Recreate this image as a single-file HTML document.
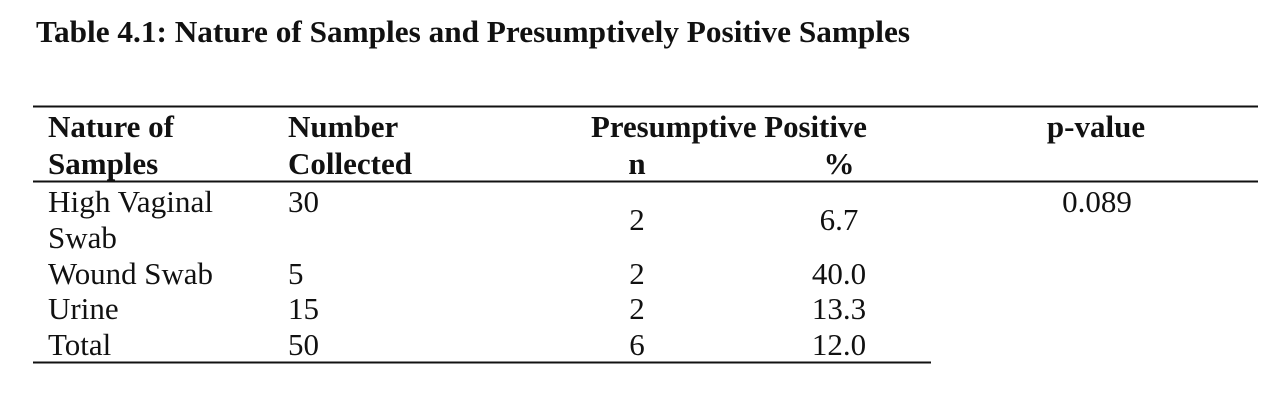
<!DOCTYPE html>
<html>
<head>
<meta charset="utf-8">
<style>
  html, body { margin: 0; padding: 0; background: #fff; }
  body { width: 1280px; height: 400px; overflow: hidden; }
  svg { display: block; }
  text { font-family: "Liberation Serif", "Times New Roman", serif; fill: #111; font-size: 31px; }
  .b { font-weight: bold; }
</style>
</head>
<body>
<svg width="1280" height="400" viewBox="0 0 1280 400" xmlns="http://www.w3.org/2000/svg">
  <rect x="0" y="0" width="1280" height="400" fill="#fff"/>
  <!-- Title -->
  <text class="b" x="36" y="42" textLength="874" lengthAdjust="spacingAndGlyphs">Table 4.1: Nature of Samples and Presumptively Positive Samples</text>

  <!-- Rules -->
  <rect x="33" y="105.5" width="1225" height="2" fill="#111"/>
  <rect x="33" y="180.5" width="1225" height="2" fill="#111"/>
  <rect x="33" y="361.5" width="898" height="2" fill="#111"/>

  <!-- Header -->
  <text class="b" x="48" y="137">Nature of</text>
  <text class="b" x="48" y="174">Samples</text>
  <text class="b" x="288" y="137">Number</text>
  <text class="b" x="288" y="174">Collected</text>
  <text class="b" x="729" y="137" text-anchor="middle" textLength="276" lengthAdjust="spacingAndGlyphs">Presumptive Positive</text>
  <text class="b" x="637" y="174" text-anchor="middle">n</text>
  <text class="b" x="839" y="174" text-anchor="middle">%</text>
  <text class="b" x="1096" y="137" text-anchor="middle">p-value</text>

  <!-- Body -->
  <text x="48" y="212" textLength="165" lengthAdjust="spacingAndGlyphs">High Vaginal</text>
  <text x="48" y="248">Swab</text>
  <text x="288" y="212">30</text>
  <text x="637" y="230" text-anchor="middle">2</text>
  <text x="839" y="230" text-anchor="middle">6.7</text>
  <text x="1097" y="212" text-anchor="middle">0.089</text>

  <text x="48" y="284" textLength="165" lengthAdjust="spacingAndGlyphs">Wound Swab</text>
  <text x="288" y="284">5</text>
  <text x="637" y="284" text-anchor="middle">2</text>
  <text x="839" y="284" text-anchor="middle">40.0</text>

  <text x="48" y="319">Urine</text>
  <text x="288" y="319">15</text>
  <text x="637" y="319" text-anchor="middle">2</text>
  <text x="839" y="319" text-anchor="middle">13.3</text>

  <text x="48" y="355">Total</text>
  <text x="288" y="355">50</text>
  <text x="637" y="355" text-anchor="middle">6</text>
  <text x="839" y="355" text-anchor="middle">12.0</text>
</svg>
</body>
</html>
